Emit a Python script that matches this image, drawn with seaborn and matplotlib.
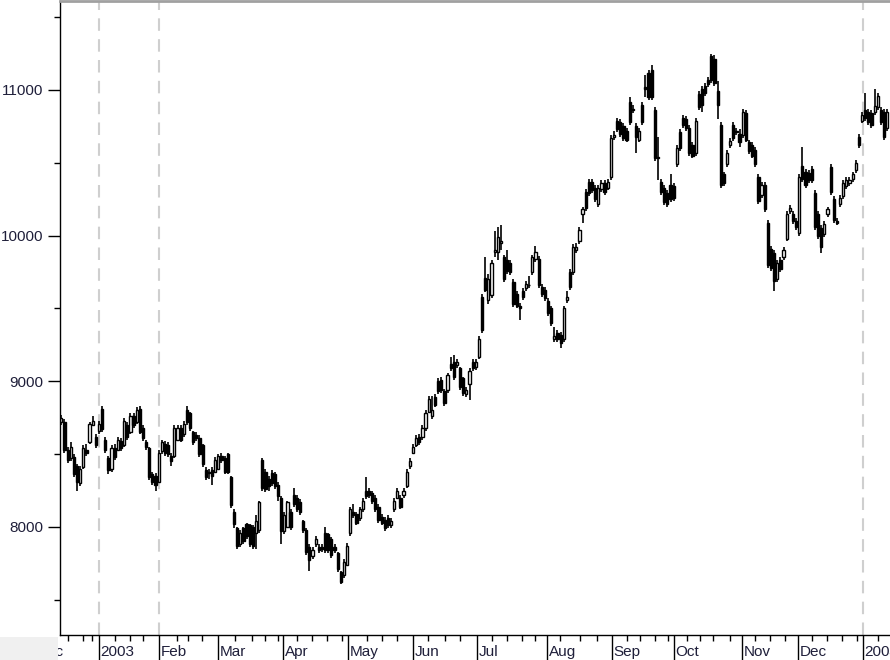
import matplotlib
matplotlib.use("Agg")
import matplotlib.pyplot as plt
from matplotlib.patches import Rectangle
import seaborn as sns
import pandas as pd

# ---- data (one candle per trading day) ----
opens = [8720, 8720, 8530, 8470, 8480, 8420, 8300, 8410, 8530, 8580, 8700, 8620, 8660, 8810, 8600, 8470, 8400, 8540, 8530, 8590,
         8560, 8700, 8650, 8760, 8720, 8810, 8680, 8580, 8540, 8360, 8350, 8310, 8520, 8570, 8560, 8490, 8490, 8600, 8680, 8640,
         8800, 8780, 8650, 8630, 8610, 8560, 8390, 8380, 8390, 8380, 8400, 8490, 8470, 8500, 8340, 8100, 7990, 7880, 7990, 8020,
         8010, 8000, 7960, 7980, 8460, 8380, 8330, 8370, 8360, 8290, 8200, 7970, 8000, 8100, 8220, 8200, 8170, 8040, 7980, 7860,
         7800, 7880, 7860, 7860, 7960, 7950, 7920, 7860, 7820, 7690, 7670, 7740, 7960, 8100, 8090, 8060, 8120, 8250, 8250, 8230,
         8200, 8140, 8070, 8050, 8060, 8010, 8120, 8200, 8200, 8220, 8280, 8420, 8510, 8560, 8620, 8620, 8680, 8790, 8760, 8890,
         9000, 9010, 8930, 8940, 9120, 9130, 9110, 9090, 9020, 8910, 8980, 9130, 9100, 9170, 9580, 9710, 9560, 9590, 9890, 9890,
         9950, 9850, 9830, 9810, 9680, 9600, 9520, 9620, 9640, 9660, 9750, 9840, 9840, 9650, 9630, 9550, 9500, 9290, 9330, 9320,
         9290, 9560, 9750, 9750, 9900, 9960, 10150, 10300, 10370, 10370, 10330, 10220, 10320, 10360, 10330, 10400, 10680, 10790, 10780, 10750,
         10720, 10920, 10870, 10750, 10660, 10900, 11020, 11120, 11140, 10860, 10540, 10370, 10330, 10290, 10350, 10340, 10490, 10710, 10810, 10800,
         10740, 10620, 10570, 10970, 11010, 11030, 11070, 11230, 11210, 10990, 10760, 10420, 10490, 10620, 10760, 10720, 10700, 10690, 10840, 10640,
         10620, 10590, 10400, 10280, 10350, 10090, 9910, 9880, 9700, 9830, 9850, 9980, 10170, 10150, 10100, 10020, 10480, 10440, 10430, 10460,
         10290, 10150, 10050, 10010, 10150, 10470, 10250, 10100, 10220, 10270, 10340, 10360, 10390, 10450, 10680, 10790, 10860, 10850, 10840, 10850,
         10880, 10860, 10850, 10740]
highs = [8770, 8740, 8550, 8580, 8500, 8430, 8420, 8560, 8570, 8720, 8760, 8640, 8730, 8830, 8620, 8490, 8560, 8570, 8620, 8610,
         8750, 8720, 8780, 8780, 8820, 8830, 8700, 8600, 8550, 8380, 8370, 8530, 8600, 8590, 8580, 8510, 8700, 8700, 8700, 8730,
         8830, 8790, 8660, 8650, 8630, 8570, 8410, 8400, 8410, 8480, 8500, 8510, 8490, 8510, 8350, 8120, 8000, 7980, 8000, 8030,
         8020, 8010, 8080, 8180, 8470, 8400, 8350, 8390, 8380, 8310, 8210, 8100, 8180, 8120, 8270, 8220, 8190, 8050, 7990, 7880,
         7860, 7940, 7880, 7880, 8000, 7960, 7930, 7880, 7830, 7700, 7780, 7890, 8140, 8160, 8100, 8140, 8200, 8340, 8270, 8250,
         8220, 8160, 8090, 8070, 8080, 8060, 8200, 8270, 8220, 8270, 8400, 8470, 8570, 8630, 8640, 8700, 8800, 8900, 8900, 8910,
         9020, 9030, 8950, 9060, 9170, 9180, 9150, 9100, 9030, 8960, 9090, 9150, 9150, 9310, 9600, 9850, 9740, 9830, 10030, 10060,
         10070, 9870, 9900, 9830, 9700, 9620, 9540, 9640, 9690, 9720, 9870, 9930, 9860, 9670, 9650, 9570, 9520, 9370, 9350, 9340,
         9520, 9620, 9770, 9940, 9950, 10060, 10200, 10320, 10390, 10390, 10350, 10350, 10380, 10380, 10390, 10690, 10720, 10810, 10800, 10770,
         10740, 10950, 10900, 10770, 10740, 10920, 11100, 11140, 11170, 10880, 10680, 10390, 10350, 10310, 10420, 10360, 10620, 10730, 10830, 10820,
         10760, 10640, 10810, 10990, 11030, 11050, 11090, 11250, 11240, 11060, 10780, 10440, 10590, 10670, 10780, 10740, 10730, 10870, 10860, 10660,
         10640, 10610, 10420, 10370, 10370, 10110, 9930, 9900, 9830, 9850, 9920, 10170, 10210, 10170, 10120, 10420, 10610, 10460, 10450, 10480,
         10310, 10170, 10070, 10100, 10200, 10490, 10270, 10120, 10280, 10380, 10400, 10400, 10440, 10520, 10700, 10850, 10980, 10870, 10860, 11010,
         10980, 10880, 10870, 10870]
lows = [8700, 8510, 8440, 8450, 8340, 8250, 8280, 8400, 8490, 8570, 8690, 8540, 8640, 8650, 8510, 8360, 8380, 8460, 8520, 8520,
        8550, 8600, 8640, 8680, 8710, 8640, 8590, 8530, 8320, 8290, 8250, 8300, 8500, 8490, 8480, 8420, 8470, 8590, 8580, 8620,
        8700, 8660, 8560, 8590, 8480, 8410, 8320, 8330, 8290, 8370, 8390, 8440, 8360, 8360, 8130, 7990, 7850, 7860, 7880, 7920,
        7860, 7850, 7850, 7960, 8250, 8240, 8250, 8280, 8260, 8180, 7880, 7950, 7990, 7980, 8140, 8100, 8080, 7960, 7810, 7700,
        7780, 7860, 7820, 7830, 7820, 7820, 7790, 7820, 7690, 7607, 7650, 7730, 7940, 8060, 8010, 8040, 8100, 8190, 8200, 8160,
        8100, 8030, 8010, 7970, 7990, 7990, 8100, 8190, 8120, 8200, 8270, 8400, 8500, 8550, 8560, 8600, 8660, 8780, 8740, 8820,
        8910, 8920, 8830, 8920, 9070, 9010, 9090, 8940, 8900, 8890, 8870, 9070, 9080, 9150, 9330, 9610, 9530, 9570, 9850, 9830,
        9900, 9680, 9740, 9730, 9510, 9500, 9420, 9560, 9620, 9640, 9730, 9820, 9640, 9580, 9550, 9450, 9380, 9270, 9270, 9230,
        9270, 9540, 9630, 9730, 9880, 9940, 10090, 10170, 10270, 10290, 10230, 10200, 10300, 10280, 10310, 10380, 10660, 10710, 10680, 10650,
        10640, 10760, 10840, 10570, 10640, 10760, 10950, 10930, 10930, 10510, 10380, 10280, 10210, 10200, 10230, 10240, 10470, 10580, 10740, 10720,
        10550, 10530, 10550, 10860, 10850, 10960, 11020, 11050, 11030, 10800, 10330, 10340, 10470, 10600, 10650, 10690, 10610, 10670, 10640, 10560,
        10530, 10470, 10220, 10260, 10160, 9780, 9760, 9620, 9680, 9750, 9830, 9960, 10150, 10080, 10040, 10000, 10370, 10330, 10360, 10360,
        10040, 9980, 9880, 9990, 10130, 10280, 10090, 10070, 10200, 10250, 10320, 10340, 10370, 10430, 10600, 10770, 10790, 10760, 10740, 10830,
        10860, 10760, 10660, 10720]
closes = [8750, 8530, 8460, 8550, 8360, 8310, 8400, 8540, 8510, 8710, 8730, 8560, 8710, 8670, 8530, 8390, 8540, 8480, 8600, 8540,
          8730, 8620, 8760, 8700, 8800, 8650, 8610, 8550, 8340, 8310, 8290, 8510, 8580, 8510, 8500, 8450, 8680, 8680, 8600, 8710,
          8720, 8680, 8580, 8610, 8500, 8430, 8340, 8370, 8350, 8460, 8490, 8460, 8380, 8380, 8150, 8020, 7870, 7960, 7900, 7940,
          7880, 7870, 8040, 8170, 8270, 8260, 8280, 8300, 8280, 8210, 7970, 8080, 8170, 8000, 8160, 8120, 8100, 7980, 7830, 7770,
          7840, 7920, 7840, 7850, 7840, 7840, 7810, 7840, 7710, 7620, 7760, 7870, 8120, 8080, 8030, 8120, 8180, 8210, 8220, 8180,
          8120, 8050, 8030, 7990, 8010, 8040, 8180, 8250, 8140, 8250, 8380, 8450, 8550, 8610, 8580, 8680, 8780, 8880, 8800, 8840,
          8930, 8940, 8850, 9040, 9090, 9030, 9130, 8960, 8920, 8940, 9070, 9090, 9130, 9290, 9350, 9630, 9700, 9810, 9900, 9990,
          9960, 9700, 9760, 9750, 9530, 9520, 9500, 9580, 9670, 9660, 9850, 9890, 9660, 9600, 9570, 9470, 9400, 9310, 9290, 9260,
          9500, 9580, 9650, 9920, 9920, 10040, 10180, 10190, 10290, 10310, 10250, 10330, 10360, 10300, 10370, 10670, 10690, 10730, 10700, 10670,
          10660, 10780, 10860, 10680, 10720, 10780, 11010, 10950, 10950, 10530, 10530, 10300, 10230, 10220, 10250, 10260, 10600, 10600, 10760, 10740,
          10570, 10550, 10790, 10880, 10900, 10980, 11040, 11070, 11050, 10900, 10350, 10360, 10570, 10650, 10670, 10710, 10640, 10850, 10660, 10580,
          10550, 10490, 10240, 10350, 10180, 9800, 9780, 9690, 9810, 9770, 9900, 10150, 10190, 10100, 10060, 10400, 10390, 10350, 10380, 10380,
          10060, 10000, 9920, 10080, 10180, 10300, 10110, 10090, 10260, 10360, 10380, 10380, 10420, 10500, 10620, 10830, 10810, 10780, 10760, 10890,
          10960, 10780, 10680, 10850]

# axis labelling (positions are trading-day numbers)
month_labels = ["Dec", "2003", "Feb", "Mar", "Apr", "May", "Jun", "Jul", "Aug", "Sep", "Oct", "Nov", "Dec", "2004"]
month_pos = [-8.4, 12, 31.1, 49.9, 70.6, 91.3, 112, 132.4, 154.7, 175.4, 195.1, 216.8, 234.6, 255.3]
week_pos = [2.1, 6.9, 9.8, 17.1, 21.9, 26, 36.8, 40.3, 44.8, 55.3, 60.7, 64.9, 69, 75.1, 79.8, 84.6, 89.4,
            97.4, 102.1, 106.9, 116.8, 122.2, 127, 137.2, 141.9, 146.7, 150.9, 158.9, 165.2, 170.6, 180.2, 184.3,
            189.1, 193.2, 199.2, 203.4, 207.5, 212.9, 220.9, 225.7, 230.5, 239.1, 243.9, 248.6, 253.4, 260.1]
separators = [12, 31.1, 255.3]
y_major = [8000, 9000, 10000, 11000]
y_minor = [7500, 8500, 9500, 10500, 11500]

df = pd.DataFrame({"day": range(len(closes)), "open": opens, "high": highs, "low": lows, "close": closes})
df["up"] = df["close"] >= df["open"]
df["bottom"] = df[["open", "close"]].min(axis=1)
df["height"] = (df["close"] - df["open"]).abs()

sns.set_theme(style="white")
plt.rcParams["font.family"] = ["Liberation Sans", "DejaVu Sans"]

fig = plt.figure(figsize=(8.9, 6.6), dpi=100)
fig.patches.append(Rectangle((0, 0), 58 / 890, 23 / 660, transform=fig.transFigure,
                             facecolor="#f0f0f0", edgecolor="none", zorder=0))
ax = fig.add_axes([60 / 890, 25 / 660, 830 / 890, 634 / 660])
ax.set_facecolor("white")

for s in separators:
    ax.axvline(s, color="#cfcfcf", lw=1.5, ls=(0, (6, 4)), zorder=1)

ax.vlines(df["day"], df["low"], df["high"], color="black", lw=1.2, zorder=2)
ax.bar(df["day"], df["height"], bottom=df["bottom"], width=0.7,
       color=["white" if u else "black" for u in df["up"]],
       edgecolor="black", linewidth=1.0, zorder=3)

# spines
ax.spines["right"].set_visible(False)
ax.spines["top"].set_color("#a0a0a0")
ax.spines["top"].set_linewidth(2)
ax.spines["left"].set_color("black")
ax.spines["bottom"].set_color("black")
ax.spines["left"].set_linewidth(1)
ax.spines["bottom"].set_linewidth(1)

# y ticks
ax.set_yticks(y_major)
ax.set_yticklabels([str(v) for v in y_major])
ax.set_yticks(y_minor, minor=True)
ax.tick_params(axis="y", which="major", direction="out", length=9, width=1, color="black",
               pad=3, labelsize=11, labelcolor="#1f1f3a", left=True)
ax.tick_params(axis="y", which="minor", direction="out", length=4, width=1, color="black", left=True)

# x ticks
ax.set_xticks(month_pos)
ax.set_xticklabels([])
ax.set_xticks(week_pos, minor=True)
ax.tick_params(axis="x", which="major", direction="out", length=19, width=1, color="black", bottom=True)
ax.tick_params(axis="x", which="minor", direction="out", length=4, width=1, color="black", bottom=True)

# limits after the ticks so the view is not widened
ax.set_xlim(-0.42, 263.9)
ax.set_ylim(7258, 11611)

clip = Rectangle((60 / 890, 0), 1, 1, transform=fig.transFigure)
for lab, pos in zip(month_labels, month_pos):
    t = ax.text(pos + 0.55, -0.027, lab, transform=ax.get_xaxis_transform(),
                ha="left", va="center", fontsize=11, color="#1f1f3a", clip_on=False)
    t.set_clip_path(clip)

ax.grid(False)
fig.savefig("out.png", dpi=100, facecolor="white")
